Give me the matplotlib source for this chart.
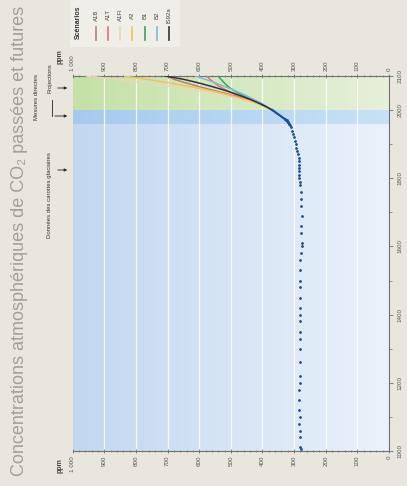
import matplotlib
matplotlib.use("Agg")
import matplotlib.pyplot as plt
import numpy as np
from matplotlib.patches import Rectangle

# ---------------------------------------------------------------------------
# Data
# ---------------------------------------------------------------------------

ice_years = [1006, 1012, 1040, 1060, 1080, 1100, 1120, 1150, 1180, 1200,
             1220, 1260, 1300, 1330, 1350, 1380, 1400, 1420, 1450, 1480,
             1500, 1530, 1560, 1580, 1600, 1610, 1640, 1660, 1690, 1720,
             1740, 1760, 1780, 1790, 1800, 1810, 1820, 1830, 1840, 1850,
             1860, 1870, 1880, 1890, 1900, 1910, 1920, 1930, 1940, 1950,
             1955, 1960, 1965, 1970, 1975]
ice_ppm = [279, 280, 281, 282, 283, 282, 283, 283, 283, 282,
           281, 281, 281, 282, 280, 280, 280, 280, 281, 281,
           280, 280, 282, 278, 276, 276, 277, 277, 276, 277,
           277, 278, 281, 282, 283, 284, 284, 284, 285, 285,
           286, 288, 291, 293, 295, 298, 301, 304, 307, 311,
           313, 316, 319, 324, 330]

direct_years = [1958, 1965, 1970, 1975, 1980, 1985, 1990, 1995, 2000]
direct_ppm = [315, 320, 326, 331, 339, 346, 354, 361, 369]

proj_years = [2000, 2010, 2020, 2030, 2040, 2050, 2060, 2070, 2080, 2090, 2100]
scenario_names = ["A1B", "A1T", "A1FI", "A2", "B1", "B2", "IS92a"]
scenario_ppm = {
    "A1B":   [369, 390, 415, 445, 480, 522, 564, 605, 643, 679, 703],
    "A1T":   [369, 391, 415, 441, 469, 495, 518, 537, 552, 566, 575],
    "A1FI":  [369, 391, 420, 456, 502, 555, 619, 691, 770, 855, 958],
    "A2":    [369, 390, 418, 451, 490, 532, 580, 635, 695, 763, 836],
    "B1":    [369, 389, 411, 434, 456, 476, 495, 510, 521, 531, 540],
    "B2":    [369, 385, 403, 424, 446, 469, 494, 522, 550, 580, 611],
    "IS92a": [369, 388, 410, 435, 463, 493, 526, 563, 603, 648, 708],
}
scenario_colors = ["#b98076", "#e0707a", "#ead7b8", "#f2c25a",
                   "#2fa860", "#86b6dc", "#333333"]

ppm_ticks = [0, 100, 200, 300, 400, 500, 600, 700, 800, 900, 1000]
ppm_labels = ["0", "100", "200", "300", "400", "500", "600", "700",
              "800", "900", "1 000"]
year_ticks = [1000, 1200, 1400, 1600, 1800, 2000, 2100]

# ---------------------------------------------------------------------------
# Figure (chart is drawn rotated 90 degrees counter-clockwise)
# ---------------------------------------------------------------------------

plt.rcParams["font.family"] = ["Liberation Sans", "DejaVu Sans"]
BG = "#e9e7dd"
fig = plt.figure(figsize=(4.07, 4.86), dpi=100, facecolor=BG)

W, H = 407.0, 486.0
L, R, T, B = 72.7, 389.0, 76.0, 451.0
ax = fig.add_axes([L / W, 1 - B / H, (R - L) / W, (B - T) / H])
ax.set_facecolor("#e6eefa")


def band(y0, y1, c_left, c_right):
    c0 = np.array(matplotlib.colors.to_rgb(c_left))
    c1 = np.array(matplotlib.colors.to_rgb(c_right))
    t = np.linspace(0, 1, 200)[:, None]
    img = (c0 * (1 - t) + c1 * t)[None, :, :]
    ax.imshow(img, extent=(1000, 0, y0, y1), aspect="auto",
              interpolation="bilinear", zorder=0)


band(1000, 1960, "#c2d7f0", "#ebf2fb")
band(1960, 2000, "#a6caee", "#c8e1f6")
band(2000, 2100, "#c4e1a6", "#e6f0da")

for p in ppm_ticks[1:-1]:
    ax.axvline(p, color="white", lw=0.9, alpha=0.8, zorder=1)

# history
ax.plot(ice_ppm, ice_years, ls="none", marker="o", ms=1.0,
        color="#1f4e8c", zorder=4)
ax.plot(direct_ppm, direct_years, color="#1f4e8c", lw=1.6, zorder=4)

# scenarios
for name, col in zip(scenario_names, scenario_colors):
    ax.plot(scenario_ppm[name], proj_years, color=col, lw=1.1, zorder=3)

ax.set_xlim(1000, 0)
ax.set_ylim(1000, 2100)

# axes styling
ax.spines["left"].set_visible(False)
for s in ["top", "bottom", "right"]:
    ax.spines[s].set_color("#707070")
    ax.spines[s].set_linewidth(0.8)

ax.set_xticks(ppm_ticks)
ax.set_xticklabels(ppm_labels, rotation=90, fontsize=4.5, color="#555555")
ax.set_xticks(np.arange(0, 1001, 20), minor=True)
ax.tick_params(axis="x", which="both", top=True, bottom=True,
               labeltop=True, labelbottom=True, direction="inout",
               colors="#707070", labelcolor="#555555", pad=2)
ax.tick_params(axis="x", which="major", length=3, width=0.6)
ax.tick_params(axis="x", which="minor", length=2, width=0.5)

ax.set_yticks(year_ticks)
ax.set_yticklabels([str(y) for y in year_ticks], rotation=90,
                   fontsize=4.5, va="center")
ax.set_yticks(np.arange(1000, 2101, 100), minor=True)
ax.tick_params(axis="y", which="both", left=False, right=True,
               labelleft=False, labelright=True, direction="out",
               colors="#707070", labelcolor="#555555", pad=3)
ax.tick_params(axis="y", which="major", length=3, width=0.6)
ax.tick_params(axis="y", which="minor", length=2, width=0.5)

# "ppm" labels
fig.text(60 / W, 1 - 57 / H, "ppm", rotation=90, fontsize=5,
         fontweight="bold", ha="center", va="center", color="#444444")
fig.text(60 / W, 1 - 466 / H, "ppm", rotation=90, fontsize=5,
         fontweight="bold", ha="center", va="center", color="#444444")

# title
fig.text(20 / W, 1 - 241 / H,
         "Concentrations atmosphériques de CO₂ passées et futures",
         rotation=90, fontsize=13, ha="center", va="center",
         color="#a09f9a")

# side annotations with arrows
ann_kw = dict(rotation=90, fontsize=4.3, ha="center", va="center",
              color="#333333")
fig.text(50 / W, 1 - 195 / H, "Données des carottes glaciaires", **ann_kw)
fig.text(37 / W, 1 - 97 / H, "Mesures directes", **ann_kw)
fig.text(50 / W, 1 - 78 / H, "Projections", **ann_kw)

for (x0, y) in [(55, 170), (52, 116), (55, 88)]:
    fig.add_artist(matplotlib.patches.FancyArrowPatch(
        (x0 / W, 1 - y / H), (70 / W, 1 - y / H),
        transform=fig.transFigure, arrowstyle="-|>", mutation_scale=4,
        lw=0.6, color="#222222"))
fig.add_artist(matplotlib.lines.Line2D(
    [52 / W, 52 / W], [1 - 100 / H, 1 - 116 / H],
    transform=fig.transFigure, lw=0.6, color="#222222"))

# legend block
fig.add_artist(Rectangle((70 / W, 1 - 47 / H), 110 / W, 47 / H,
                         transform=fig.transFigure, facecolor="#efeee7",
                         edgecolor="none", zorder=0))
fig.text(78 / W, 1 - 22 / H, "Scénarios", rotation=90, fontsize=5,
         fontweight="bold", ha="center", va="center", color="#333333")
leg_x = [96, 108, 120, 132, 145, 157, 169]
for x, name, col in zip(leg_x, scenario_names, scenario_colors):
    fig.text(x / W, 1 - 15 / H, name, rotation=90, fontsize=4.3,
             ha="center", va="center", color="#444444")
    fig.add_artist(matplotlib.lines.Line2D(
        [x / W, x / W], [1 - 27 / H, 1 - 40 / H],
        transform=fig.transFigure, lw=1.2, color=col))

fig.savefig("out.png", dpi=100, facecolor=BG)
